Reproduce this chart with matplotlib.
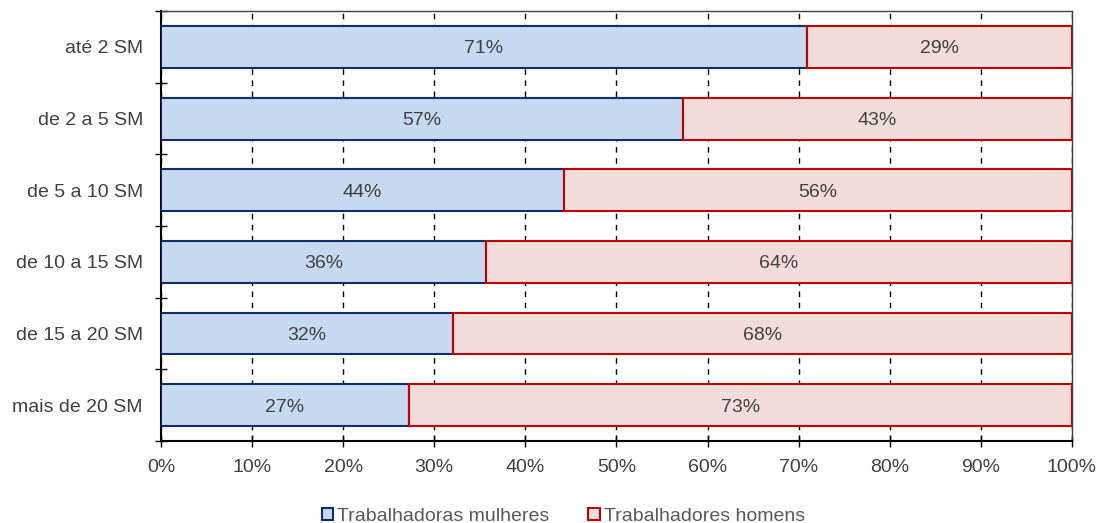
import matplotlib

matplotlib.use("Agg")

import matplotlib.pyplot as plt
import numpy as np
from matplotlib.patches import Patch
from matplotlib.ticker import FixedLocator, PercentFormatter

plt.rcParams["font.family"] = ["Liberation Sans", "DejaVu Sans"]

categories = [
    "até 2 SM",
    "de 2 a 5 SM",
    "de 5 a 10 SM",
    "de 10 a 15 SM",
    "de 15 a 20 SM",
    "mais de 20 SM",
]
women = [70.9, 57.3, 44.2, 35.7, 32.1, 27.2]
men = [100 - value for value in women]
series_names = ["Trabalhadoras mulheres", "Trabalhadores homens"]

fill_colors = ["#c6d9f0", "#f2dcdb"]
edge_colors = ["#0d2d6b", "#c00000"]
text_color = "#404040"
font_size = 14

figure = plt.figure(figsize=(11.0, 5.23), dpi=100)
axis = figure.add_axes((0.1464, 0.1568, 0.828, 0.822))

positions = np.arange(len(categories))
bar_height = 0.585

left = np.zeros(len(categories))
for values, fill, edge in zip((women, men), fill_colors, edge_colors):
    bars = axis.barh(
        positions,
        values,
        left=left,
        height=bar_height,
        color=fill,
        edgecolor=edge,
        linewidth=1.5,
        zorder=3,
    )
    for bar, value in zip(bars, values):
        axis.text(
            bar.get_x() + bar.get_width() / 2.0,
            bar.get_y() + bar.get_height() / 2.0,
            f"{value:.0f}%",
            ha="center",
            va="center_baseline",
            fontsize=font_size,
            color=text_color,
            zorder=4,
        )
    left = left + np.array(values)

axis.set_xlim(0, 100)
axis.set_ylim(len(categories) - 0.5, -0.5)
axis.set_xticks(np.arange(0, 101, 10))
axis.xaxis.set_major_formatter(PercentFormatter(decimals=0))
axis.set_yticks(positions)
axis.set_yticklabels(categories)
axis.yaxis.set_minor_locator(FixedLocator(np.arange(-0.5, len(categories), 1.0)))

axis.tick_params(axis="y", which="major", length=0, labelsize=font_size,
                 labelcolor=text_color, pad=13)
axis.tick_params(axis="y", which="minor", direction="inout", length=8,
                 width=1, color="black")
axis.tick_params(axis="x", direction="inout", length=8, width=1,
                 color="black", labelsize=font_size, labelcolor=text_color,
                 pad=9)

axis.grid(axis="x", color="black", linestyle=(0, (4, 4)), linewidth=1,
          zorder=0)

for side in ("left", "bottom"):
    axis.spines[side].set_color("black")
    axis.spines[side].set_linewidth(1.5)
for side in ("top", "right"):
    axis.spines[side].set_color("#404040")
    axis.spines[side].set_linewidth(1)

handles = [
    Patch(facecolor=fill, edgecolor=edge, linewidth=1.5, label=name)
    for fill, edge, name in zip(fill_colors, edge_colors, series_names)
]
figure.legend(
    handles=handles,
    loc="lower center",
    bbox_to_anchor=(0.512, -0.037),
    ncol=2,
    frameon=False,
    fontsize=font_size,
    labelcolor="#595959",
    handlelength=0.6,
    handleheight=0.6,
    handletextpad=0.2,
    columnspacing=2.0,
)

figure.savefig("out.png", dpi=100)
